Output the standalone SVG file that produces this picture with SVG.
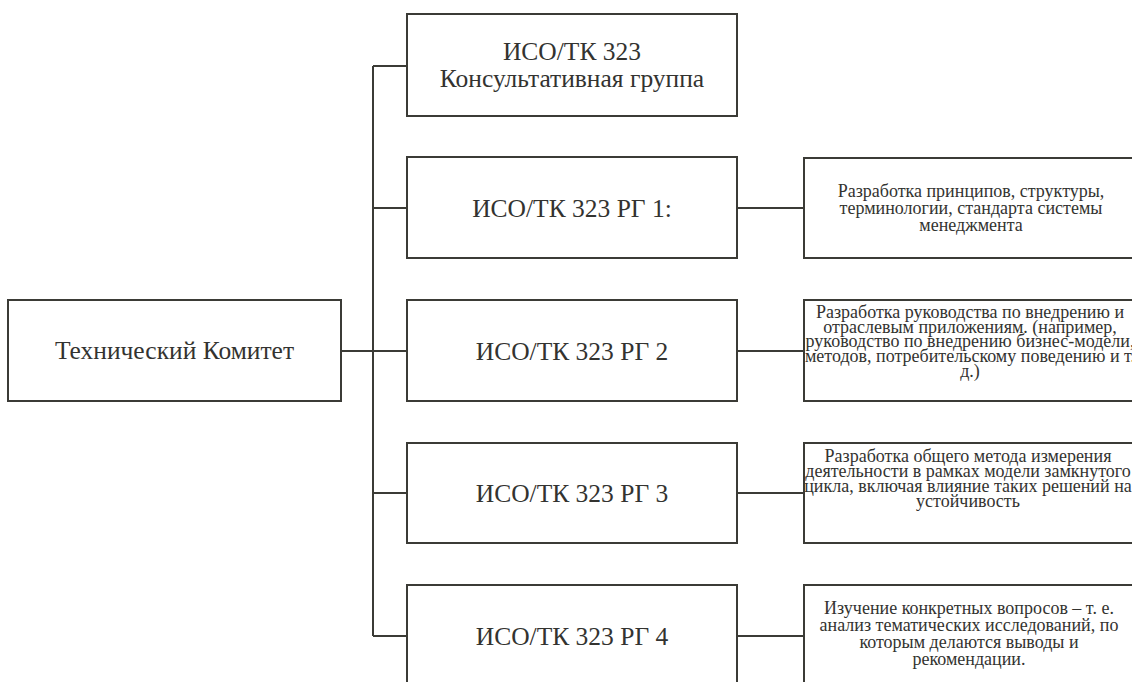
<svg xmlns="http://www.w3.org/2000/svg" width="1132" height="682" viewBox="0 0 1132 682">
<style>
.box{fill:none;stroke:#3b3b36;stroke-width:2}
.ln{fill:none;stroke:#3b3b36;stroke-width:2}
.t{font-family:"Liberation Serif","Times New Roman",serif;fill:#333330;text-anchor:middle}
.big{font-size:25.5px}
.sm{font-size:18px}
</style>
<defs>
<clipPath id="rc"><rect x="805" y="0" width="340" height="682"/></clipPath>
</defs>
<rect width="1132" height="682" fill="#ffffff"/>
<g id="connectors">
<path class="ln" d="M373,66 V636"/>
<path class="ln" d="M373,66 H407 M373,208 H407 M373,351 H407 M373,493 H407 M373,636 H407"/>
<path class="ln" d="M341,351 H373"/>
<path class="ln" d="M737,208 H804 M737,351 H804 M737,493 H804 M737,636 H804"/>
</g>
<g id="tk">
<rect class="box" x="8" y="300" width="333" height="101"/>
<text class="t big" x="174.5" y="359">Технический Комитет</text>
</g>
<g id="cg">
<rect class="box" x="407" y="14" width="330" height="102"/>
<text class="t big" x="572" y="60">ИСО/ТК 323</text>
<text class="t big" x="572" y="87">Консультативная группа</text>
</g>
<g id="rg1">
<rect class="box" x="407" y="157" width="330" height="101"/>
<text class="t big" x="572" y="217">ИСО/ТК 323 РГ 1:</text>
</g>
<g id="rg2">
<rect class="box" x="407" y="300" width="330" height="101"/>
<text class="t big" x="572" y="360">ИСО/ТК 323 РГ 2</text>
</g>
<g id="rg3">
<rect class="box" x="407" y="443" width="330" height="100"/>
<text class="t big" x="572" y="502">ИСО/ТК 323 РГ 3</text>
</g>
<g id="rg4">
<rect class="box" x="407" y="585" width="330" height="120"/>
<text class="t big" x="572" y="645">ИСО/ТК 323 РГ 4</text>
</g>
<g id="d1">
<g clip-path="url(#rc)">
<text class="t sm" x="971" y="197">Разработка  принципов, структуры,</text>
<text class="t sm" x="971" y="214">терминологии, стандарта  системы</text>
<text class="t sm" x="971" y="231">менеджмента</text>
</g>
<rect class="box" x="804" y="158" width="340" height="100"/>
</g>
<g id="d2">
<g clip-path="url(#rc)">
<text class="t sm" x="970" y="318">Разработка  руководства  по внедрению и</text>
<text class="t sm" x="970" y="333">отраслевым  приложениям. (например,</text>
<text class="t sm" x="970" y="347">руководство  по  внедрению бизнес-модели,</text>
<text class="t sm" x="970" y="362">методов, потребительскому  поведению и т.</text>
<text class="t sm" x="970" y="377">д.)</text>
</g>
<rect class="box" x="804" y="300" width="340" height="101"/>
</g>
<g id="d3">
<g clip-path="url(#rc)">
<text class="t sm" x="968" y="462">Разработка  общего  метода  измерения</text>
<text class="t sm" x="968" y="477">деятельности в рамках  модели замкнутого</text>
<text class="t sm" x="968" y="492">цикла, включая влияние таких решений на</text>
<text class="t sm" x="968" y="507">устойчивость</text>
</g>
<rect class="box" x="804" y="443" width="340" height="100"/>
</g>
<g id="d4">
<g clip-path="url(#rc)">
<text class="t sm" x="969" y="614">Изучение  конкретных  вопросов – т. е.</text>
<text class="t sm" x="969" y="631">анализ  тематических  исследований,  по</text>
<text class="t sm" x="969" y="648">которым  делаются  выводы  и</text>
<text class="t sm" x="969" y="665">рекомендации.</text>
</g>
<rect class="box" x="804" y="585" width="340" height="120"/>
</g>
</svg>
